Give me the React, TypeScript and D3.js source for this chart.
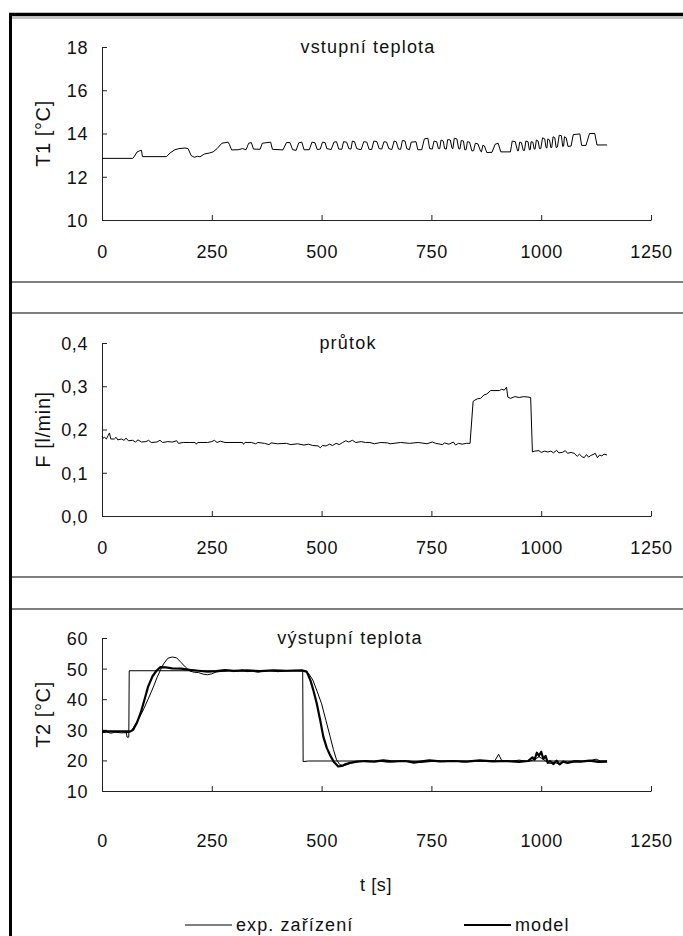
import React, { useEffect, useRef } from 'react';
import * as d3 from 'd3';

// time axis shared by all three panels
const timeTicks = [0, 250, 500, 750, 1000, 1250];

// vstupní teplota  [t, T1]
const inletTemp: [number, number][] = [
  [0, 12.85], [70, 12.85], [74, 12.95], [80, 13.15], [86, 13.2], [90, 13.22], [92, 12.93], [147, 12.93],
  [155, 13.1], [166, 13.25], [175, 13.3], [189, 13.33], [196, 13.3], [203, 12.98], [210, 12.9], [218, 12.95],
  [223, 12.92], [233, 13.05], [245, 13.1], [253, 13.15], [262, 13.3], [273, 13.55], [287, 13.6], [290, 13.5],
  [295, 13.24], [310, 13.25], [320, 13.3],
  [328, 13.25], [334, 13.55], [340, 13.58], [345, 13.28],
  [360, 13.27], [365, 13.55], [384, 13.6], [388, 13.27],
  [412, 13.24], [420, 13.58], [428, 13.58], [434, 13.25],
  [442, 13.22], [448, 13.57], [455, 13.6], [460, 13.25],
  [472, 13.25], [478, 13.6], [485, 13.57], [490, 13.26],
  [497, 13.28], [502, 13.6], [508, 13.58], [512, 13.3],
  [522, 13.26], [528, 13.6], [534, 13.62], [539, 13.28],
  [546, 13.27], [550, 13.62], [557, 13.6], [562, 13.3],
  [567, 13.28], [570, 13.65], [575, 13.62], [580, 13.3],
  [590, 13.25], [596, 13.62], [603, 13.6], [608, 13.27],
  [614, 13.26], [619, 13.65], [626, 13.62], [631, 13.3],
  [637, 13.28], [642, 13.62], [648, 13.6], [653, 13.3],
  [660, 13.26], [665, 13.65], [670, 13.62], [675, 13.28],
  [680, 13.27], [684, 13.68], [690, 13.65], [694, 13.3],
  [700, 13.25], [704, 13.6], [715, 13.62], [719, 13.25],
  [728, 13.25], [734, 13.75], [742, 13.78], [746, 13.3],
  [752, 13.28], [756, 13.65], [762, 13.62], [766, 13.3],
  [769, 13.3], [772, 13.7], [777, 13.65], [780, 13.3],
  [784, 13.28], [787, 13.72], [793, 13.7], [797, 13.32],
  [799, 13.3], [802, 13.78], [808, 13.75], [812, 13.3],
  [815, 13.28], [818, 13.68], [823, 13.65], [826, 13.25],
  [829, 13.25], [832, 13.62], [837, 13.6], [842, 13.2],
  [846, 13.2], [850, 13.55], [856, 13.52], [862, 13.18],
  [864, 13.15], [867, 13.45], [871, 13.42], [876, 13.12],
  [888, 13.13], [895, 13.5], [902, 13.55], [908, 13.15],
  [930, 13.15], [934, 13.65], [941, 13.62], [946, 13.2],
  [948, 13.2], [951, 13.6], [955, 13.58], [959, 13.22],
  [962, 13.22], [965, 13.65], [970, 13.62], [973, 13.25],
  [975, 13.25], [977, 13.62], [981, 13.6], [984, 13.28],
  [986, 13.28], [989, 13.7], [993, 13.65], [996, 13.3],
  [999, 13.3], [1003, 13.8], [1008, 13.75], [1011, 13.35],
  [1013, 13.33], [1015, 13.75], [1019, 13.7], [1022, 13.35],
  [1024, 13.35], [1027, 13.85], [1031, 13.8], [1034, 13.35],
  [1037, 13.38], [1041, 13.92], [1046, 13.9], [1049, 13.4],
  [1051, 13.42], [1053, 13.85], [1057, 13.8], [1061, 13.4],
  [1068, 13.42], [1073, 13.95], [1088, 13.98], [1092, 13.45],
  [1102, 13.45], [1110, 14.0], [1122, 14.0], [1127, 13.47],
  [1150, 13.47],
];

// průtok  [t, F]
const flow: [number, number][] = [
  [0, 0.185], [3, 0.18], [6, 0.182], [10, 0.178], [14, 0.186], [17, 0.192], [20, 0.178], [28, 0.178],
  [32, 0.182], [36, 0.176], [44, 0.178], [50, 0.175], [55, 0.18], [60, 0.174], [70, 0.175], [76, 0.171],
  [82, 0.176], [90, 0.171], [100, 0.172], [106, 0.175], [112, 0.17], [125, 0.171], [132, 0.175], [138, 0.17],
  [150, 0.172], [160, 0.171], [170, 0.174], [174, 0.168], [185, 0.17], [200, 0.17], [212, 0.17], [215, 0.166],
  [218, 0.17], [240, 0.17], [250, 0.172], [256, 0.175], [262, 0.17], [270, 0.173], [280, 0.17], [320, 0.17],
  [322, 0.166], [326, 0.17], [340, 0.17], [350, 0.167], [355, 0.17], [370, 0.168], [380, 0.165], [385, 0.169],
  [400, 0.167], [420, 0.168], [430, 0.165], [445, 0.167], [460, 0.164], [470, 0.166], [480, 0.163], [492, 0.162],
  [497, 0.158], [502, 0.163], [510, 0.162], [518, 0.166], [525, 0.163], [533, 0.168], [540, 0.165], [548, 0.17],
  [555, 0.174], [562, 0.171], [570, 0.175], [578, 0.17], [590, 0.172], [600, 0.17], [610, 0.17], [620, 0.167],
  [635, 0.17], [650, 0.169], [656, 0.167], [665, 0.168], [680, 0.17], [700, 0.168], [720, 0.17], [740, 0.167],
  [752, 0.171], [760, 0.168], [775, 0.165], [780, 0.169], [790, 0.166], [800, 0.171], [805, 0.164], [812, 0.168],
  [820, 0.166], [830, 0.168], [838, 0.168], [845, 0.265], [849, 0.268], [855, 0.271], [862, 0.272], [870, 0.28],
  [876, 0.282], [885, 0.29], [905, 0.29], [910, 0.293], [916, 0.291], [921, 0.298], [924, 0.275], [930, 0.272],
  [940, 0.276], [950, 0.274], [960, 0.276], [970, 0.275], [976, 0.274], [980, 0.148], [985, 0.15], [995, 0.151],
  [1000, 0.147], [1008, 0.15], [1015, 0.148], [1022, 0.15], [1028, 0.146], [1035, 0.152], [1040, 0.146],
  [1048, 0.147], [1055, 0.151], [1060, 0.145], [1068, 0.147], [1075, 0.145], [1082, 0.138], [1087, 0.143],
  [1093, 0.137], [1098, 0.135], [1103, 0.142], [1108, 0.136], [1113, 0.14], [1118, 0.142], [1123, 0.145],
  [1128, 0.135], [1133, 0.141], [1138, 0.139], [1143, 0.143], [1150, 0.141],
];

// výstupní teplota – step signal (thin, not in legend)
const stepTemp: [number, number][] = [
  [0, 29.4], [55, 29.4], [57, 27.6], [61, 27.6], [62, 49.3], [200, 49.3], [300, 49.2], [457, 49.3],
  [458, 19.6], [470, 19.8], [1150, 19.8],
];

// exp. zařízení
const expTemp: [number, number][] = [
  [0, 29.0], [10, 29.3], [20, 28.9], [30, 29.2], [45, 29.0], [60, 29.1], [66, 29.5], [75, 31.5], [85, 34],
  [94, 36.5], [105, 40], [117, 44], [125, 47], [132, 49.2], [140, 51.5], [150, 53.4], [160, 53.8], [170, 53.5],
  [180, 52], [190, 50.5], [200, 49.2], [210, 48.8], [220, 48.7], [230, 48.2], [240, 48.0], [250, 48.3],
  [260, 48.9], [275, 49.1], [290, 49.4], [300, 49.0], [310, 49.3], [320, 49.6], [330, 49.0], [340, 49.2],
  [355, 48.8], [370, 49.3], [385, 49.4], [400, 49.0], [420, 49.2], [440, 49.4], [460, 49.3], [470, 48.5],
  [480, 46.3], [490, 42.5], [500, 38.5], [510, 33], [519, 28], [527, 23.5], [534, 20.2], [541, 18.7],
  [549, 18.2], [556, 18.5], [564, 19.0], [575, 19.4], [590, 19.7], [610, 19.5], [630, 19.8], [650, 19.4],
  [670, 19.6], [700, 19.8], [720, 19.3], [740, 19.5], [760, 19.8], [780, 19.6], [800, 19.9], [820, 19.5],
  [850, 19.8], [880, 19.6], [895, 20.0], [903, 22.0], [910, 20.0], [930, 19.7], [950, 20.1], [970, 19.6],
  [985, 20.3], [995, 21.2], [1003, 20.5], [1010, 19.8], [1020, 19.0], [1030, 19.4], [1040, 18.8], [1050, 19.6],
  [1060, 19.3], [1080, 19.9], [1100, 19.6], [1115, 20.1], [1125, 20.4], [1135, 19.8], [1150, 19.8],
];

// model
const modelTemp: [number, number][] = [
  [0, 29.5], [40, 29.5], [65, 29.5], [71, 30.0], [80, 32.5], [88, 35.5], [97, 40], [105, 44.1], [115, 47.5],
  [124, 49.3], [133, 50.5], [145, 50.4], [160, 50.1], [180, 50.0], [200, 49.6], [220, 49.3], [240, 49.0],
  [260, 49.2], [280, 49.5], [300, 49.3], [330, 49.4], [360, 49.2], [390, 49.4], [420, 49.3], [455, 49.4],
  [466, 49.0], [475, 46], [482, 42.5], [489, 38.6], [497, 33], [504, 27.7], [512, 24], [519, 21.8], [528, 19.5],
  [538, 18.0], [546, 18.2], [553, 18.7], [565, 19.2], [580, 19.6], [600, 19.8], [620, 19.6], [640, 20.0],
  [660, 19.7], [690, 19.8], [710, 19.3], [725, 19.6], [745, 20.0], [770, 19.7], [800, 19.8], [830, 19.6],
  [860, 20.0], [890, 19.7], [920, 19.8], [950, 19.5], [970, 19.8], [980, 21.0], [985, 20.2], [990, 22.5],
  [995, 21.5], [1000, 22.8], [1005, 20.5], [1010, 21.5], [1015, 19.2], [1020, 19.8], [1028, 18.8], [1035, 19.9],
  [1042, 18.7], [1050, 19.6], [1060, 19.2], [1075, 19.7], [1090, 19.6], [1110, 19.9], [1130, 19.5], [1150, 19.6],
];

const t1Ticks = [10, 12, 14, 16, 18];
const fTicks = [0, 0.1, 0.2, 0.3, 0.4];
const t2Ticks = [10, 20, 30, 40, 50, 60];

const FONT = "'Liberation Sans', Arial, sans-serif";
const czComma = d3.formatLocale({ decimal: ',', thousands: ' ', grouping: [3], currency: ['', ' Kč'] });

export default function App() {
  const svgRef = useRef<SVGSVGElement>(null);

  useEffect(() => {
    const svg = d3.select(svgRef.current);
    svg.selectAll('*').remove();

    const W = 683;
    const x = d3.scaleLinear().domain([0, 1250]).range([102, 651]);

    // outer frame + separators
    svg.append('line').attr('x1', 9).attr('x2', W).attr('y1', 14.5).attr('y2', 14.5)
      .attr('stroke', '#000').attr('stroke-width', 3.5);
    svg.append('line').attr('x1', 12).attr('x2', W).attr('y1', 18).attr('y2', 18)
      .attr('stroke', '#888').attr('stroke-width', 1.2);
    svg.append('line').attr('x1', 10.5).attr('x2', 10.5).attr('y1', 13).attr('y2', 936)
      .attr('stroke', '#000').attr('stroke-width', 3);
    [282, 313, 577, 609].forEach(yy => {
      svg.append('line').attr('x1', 12).attr('x2', W).attr('y1', yy).attr('y2', yy)
        .attr('stroke', '#555').attr('stroke-width', 1.6);
    });

    const panels = [
      { top: 47, bottom: 220, domain: [10, 18], ticks: t1Ticks, fmt: d3.format('d'), ylab: 'T1 [°C]',
        title: 'vstupní teplota', titleX: 368, labelOffset: 32,
        series: [{ data: inletTemp, w: 1 }] },
      { top: 343, bottom: 516, domain: [0, 0.4], ticks: fTicks, fmt: czComma.format('.1f'), ylab: 'F [l/min]',
        title: 'průtok', titleX: 348, labelOffset: 32,
        series: [{ data: flow, w: 1 }] },
      { top: 638, bottom: 791, domain: [10, 60], ticks: t2Ticks, fmt: d3.format('d'), ylab: 'T2 [°C]',
        title: 'výstupní teplota', titleX: 350, labelOffset: 50,
        series: [{ data: stepTemp, w: 1 }, { data: expTemp, w: 1 }, { data: modelTemp, w: 2.2 }] },
    ];

    panels.forEach(p => {
      const y = d3.scaleLinear().domain(p.domain).range([p.bottom, p.top]);
      const g = svg.append('g');

      const yAxis = g.append('g').attr('transform', 'translate(102,0)')
        .call(d3.axisLeft(y).tickValues(p.ticks).tickFormat(p.fmt as any).tickSizeInner(-5).tickSizeOuter(0).tickPadding(14));
      const xAxis = g.append('g').attr('transform', `translate(0,${p.bottom})`)
        .call(d3.axisBottom(x).tickValues(timeTicks).tickFormat(d3.format('d') as any).tickSizeInner(-5).tickSizeOuter(0).tickPadding(0));

      [yAxis, xAxis].forEach(a => {
        a.selectAll('path, line').attr('stroke', '#222');
        a.selectAll('text').attr('font-family', FONT).attr('font-size', 18)
          .attr('letter-spacing', 0.6).attr('fill', '#111');
      });
      xAxis.selectAll('text').attr('y', p.labelOffset).attr('dy', '0.35em');
      yAxis.selectAll('text').attr('dy', '0.36em');

      const line = d3.line<[number, number]>().x(d => x(d[0])).y(d => y(d[1]));
      p.series.forEach(s => {
        g.append('path').attr('d', line(s.data) as string).attr('fill', 'none')
          .attr('stroke', '#000').attr('stroke-width', s.w).attr('stroke-linejoin', 'round');
      });

      g.append('text').attr('x', p.titleX).attr('y', p.top).attr('dy', '0.36em')
        .attr('text-anchor', 'middle').attr('font-family', FONT).attr('font-size', 18)
        .attr('letter-spacing', 1.2).attr('fill', '#111').text(p.title);

      g.append('text').attr('transform', `translate(43,${(p.top + p.bottom) / 2}) rotate(-90)`)
        .attr('text-anchor', 'middle').attr('dy', '0.36em').attr('font-family', FONT).attr('font-size', 20)
        .attr('letter-spacing', 0.6).attr('fill', '#111').text(p.ylab);
    });

    // axis title and legend below panel 3
    svg.append('text').attr('x', 376).attr('y', 885).attr('dy', '0.36em').attr('text-anchor', 'middle')
      .attr('font-family', FONT).attr('font-size', 18).attr('letter-spacing', 0.6).attr('fill', '#111').text('t [s]');

    const legend = [
      { label: 'exp. zařízení', x0: 185, w: 1 },
      { label: 'model', x0: 464, w: 2.2 },
    ];
    const ly = 925;
    legend.forEach(l => {
      svg.append('line').attr('x1', l.x0).attr('x2', l.x0 + 47).attr('y1', ly).attr('y2', ly)
        .attr('stroke', '#000').attr('stroke-width', l.w);
      svg.append('text').attr('x', l.x0 + 51).attr('y', ly).attr('dy', '0.36em')
        .attr('font-family', FONT).attr('font-size', 18).attr('letter-spacing', 1.1).attr('fill', '#111').text(l.label);
    });
  }, []);

  return (
    <div style={{ position: 'absolute', left: 0, top: 0 }}>
      <svg ref={svgRef} width={683} height={936} style={{ display: 'block', background: '#fff' }} />
    </div>
  );
}
